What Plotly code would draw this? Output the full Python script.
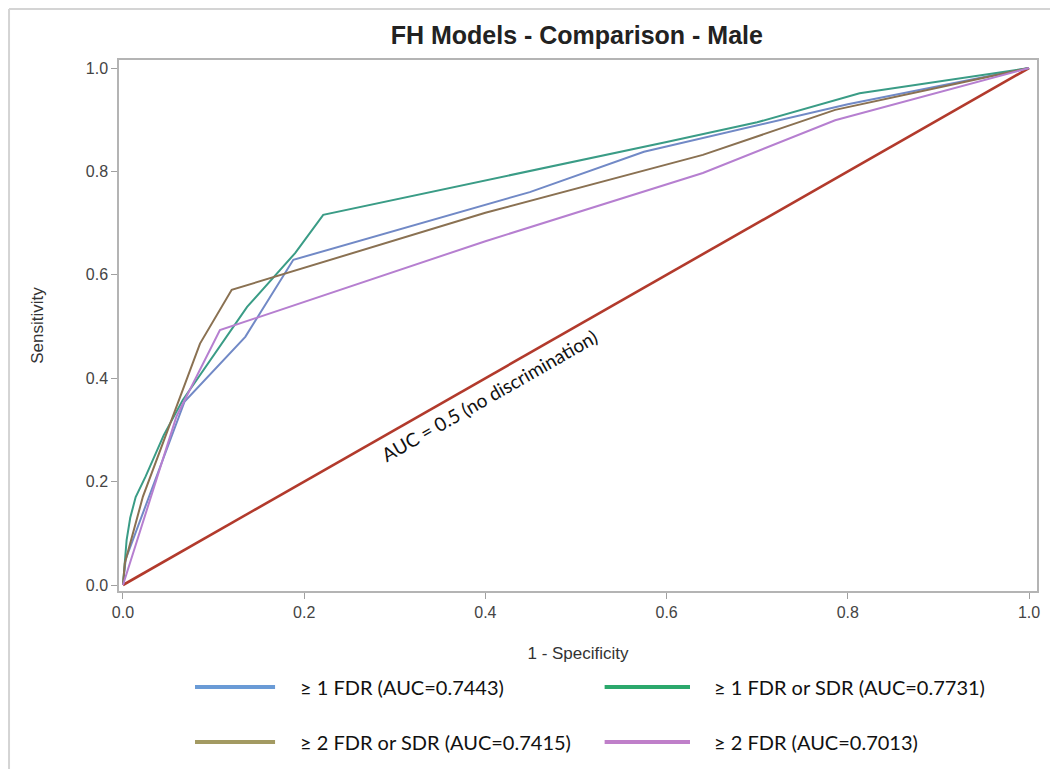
import plotly.graph_objects as go

# ---- data ----
fdr1_x = [0, 0.003, 0.068, 0.135, 0.188, 0.449, 0.575, 0.80, 1.0]
fdr1_y = [0, 0.050, 0.355, 0.480, 0.629, 0.760, 0.838, 0.930, 1.0]

fdr1sdr_x = [0, 0.004, 0.008, 0.014, 0.025, 0.045, 0.066, 0.137, 0.190, 0.221, 0.600, 0.700, 0.813, 1.0]
fdr1sdr_y = [0, 0.087, 0.130, 0.170, 0.210, 0.290, 0.358, 0.538, 0.642, 0.716, 0.857, 0.895, 0.951, 1.0]

fdr2sdr_x = [0, 0.002, 0.022, 0.085, 0.120, 0.400, 0.640, 0.786, 1.0]
fdr2sdr_y = [0, 0.042, 0.171, 0.467, 0.571, 0.720, 0.832, 0.919, 1.0]

fdr2_x = [0, 0.059, 0.107, 0.400, 0.640, 0.786, 1.0]
fdr2_y = [0, 0.326, 0.493, 0.665, 0.797, 0.899, 1.0]

ref_x = [0, 1]
ref_y = [0, 1]

names = ["≥ 1 FDR (AUC=0.7443)", "≥ 1 FDR or SDR (AUC=0.7731)",
         "≥ 2 FDR or SDR (AUC=0.7415)", "≥ 2 FDR (AUC=0.7013)"]
colors = ["#7189C6", "#3A9C86", "#8A7152", "#B67FD0"]
legend_colors = ["#6A9BD6", "#2BA86C", "#A39A62", "#BF7FC9"]

series = [(fdr1_x, fdr1_y), (fdr1sdr_x, fdr1sdr_y), (fdr2sdr_x, fdr2sdr_y), (fdr2_x, fdr2_y)]

fig = go.Figure()
fig.add_trace(go.Scatter(x=ref_x, y=ref_y, mode="lines",
                         line=dict(color="#B23A2C", width=2.6), showlegend=False,
                         hoverinfo="skip"))
for (xs, ys), n, c in zip(series, names, colors):
    fig.add_trace(go.Scatter(x=xs, y=ys, mode="lines", name=n,
                             line=dict(color=c, width=2), showlegend=False))

axis_common = dict(showgrid=False, zeroline=False, showline=True, mirror=True,
                   linecolor="#B4B4B4", linewidth=1.5, ticks="outside", ticklen=6,
                   tickcolor="#A0A0A0", tickfont=dict(family="Liberation Sans, Arial", size=16, color="#444444"),
                   tickvals=[0, 0.2, 0.4, 0.6, 0.8, 1.0], tickformat=".1f")

W, H = 1050, 761
fig.update_layout(
    width=W, height=H,
    margin=dict(l=111, r=21, t=52, b=178),
    paper_bgcolor="white", plot_bgcolor="white",
    title=dict(text="<b>FH Models - Comparison - Male</b>", x=0.5417, xanchor="center",
               y=1 - 27 / H, yanchor="middle",
               font=dict(family="Liberation Sans, Arial", size=25, color="#222222")),
    xaxis=dict(range=[-0.0044, 1.0088],
               title=dict(text="1 - Specificity", standoff=27,
                          font=dict(family="Liberation Sans, Arial", size=17, color="#333333")),
               **axis_common),
    yaxis=dict(range=[-0.0116, 1.0155],
               title=dict(text="Sensitivity", standoff=38,
                          font=dict(family="Liberation Sans, Arial", size=17, color="#333333")),
               **axis_common),
)

# diagonal label
fig.add_annotation(x=0.404, y=0.367, xref="x", yref="y", text="AUC = 0.5 (no discrimination)",
                   showarrow=False, textangle=-29.7,
                   font=dict(family="Lato, Open Sans", size=19, color="#111111"))

# manual legend (2x2)
leg_pos = [(0.0828, 0.170, 0.195, -0.1808), (0.529, 0.622, 0.646, -0.1808),
           (0.0828, 0.170, 0.195, -0.2844), (0.529, 0.622, 0.646, -0.2844)]
for (x0, x1, xt, yy), n, c in zip(leg_pos, names, legend_colors):
    fig.add_shape(type="line", xref="paper", yref="paper", x0=x0, x1=x1, y0=yy, y1=yy,
                  line=dict(color=c, width=4))
    fig.add_annotation(xref="paper", yref="paper", x=xt, y=yy, text=n, showarrow=False,
                       xanchor="left", yanchor="middle",
                       font=dict(family="Lato, Open Sans", size=20, color="#111111"))

# outer border frame
for (x0, y0, x1, y1) in [(-0.1198, -0.34, -0.1198, 1.0961), (-0.1198, 1.0961, 1.0153, 1.0961),
                         (1.0153, 1.0961, 1.0153, -0.34)]:
    fig.add_shape(type="line", xref="paper", yref="paper", x0=x0, y0=y0, x1=x1, y1=y1,
                  line=dict(color="#D4D4D4", width=2))

fig.write_html("out.html")
